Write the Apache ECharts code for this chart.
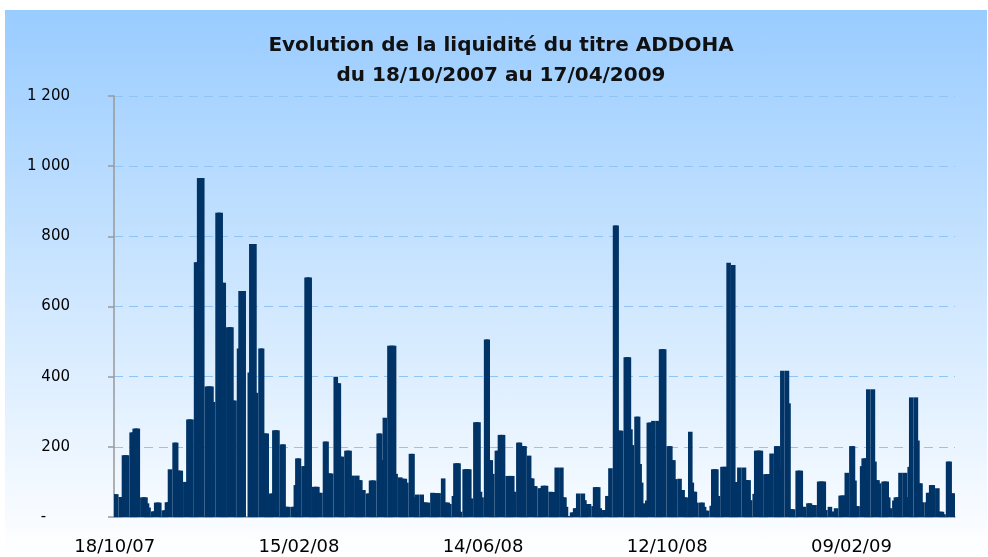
<!DOCTYPE html>
<html>
<head>
<meta charset="utf-8">
<title>Liquidité ADDOHA</title>
<script src="https://cdn.jsdelivr.net/npm/echarts@6/dist/echarts.min.js"></script>
<style>
  html, body { margin: 0; padding: 0; background: #fff; }
  #wrap { position: relative; width: 988px; height: 557px; }
  #bg { position: absolute; left: 5px; top: 10px; width: 982px; height: 547px;
        background: linear-gradient(to bottom, #99ccff 0%, #ffffff 100%); }
  #chart { position: absolute; left: 0; top: 0; width: 988px; height: 557px; }
</style>
</head>
<body>
<div id="wrap">
  <div id="bg"></div>
  <div id="chart"></div>
</div>
<script>
// volumes quotidiens (jours ouvrés uniquement)
const vol_oct07_jan08 = [
  65, 65, 57, 57, 176, 176, 176, 241, 241, 252, 252, 252, 56, 56, 56,
  39, 27, 16, 16, 41, 41, 41, 19, 19, 42, 42, 136, 212, 212, 132,
  132, 132, 100, 72, 278, 278, 278, 726, 726, 966, 966, 966, 372, 372, 372,
  372, 328, 867, 867, 867, 668, 668, 541, 541, 541, 332, 332, 480, 644, 644,
  644, 0, 412, 778, 778
]
const vol_jan08_apr08 = [
  778, 354, 480, 480, 238, 238, 238, 67, 67, 247, 247, 247, 207, 207, 29,
  29, 29, 29, 29, 91, 167, 167, 145, 145, 683, 683, 683, 86, 86, 86,
  69, 69, 215, 215, 124, 124, 124, 400, 381, 381, 172, 172, 189, 189, 189,
  0, 118, 118, 105, 105, 77, 77, 67, 67, 104, 104, 104, 238, 238, 162,
  58, 283, 488, 488, 488
]
const vol_apr08_jul08 = [
  488, 123, 113, 109, 109, 109, 98, 180, 180, 56, 56, 64, 64, 42, 41,
  41, 41, 69, 68, 68, 68, 68, 110, 41, 41, 41, 37, 60, 153, 153,
  153, 15, 136, 136, 136, 136, 53, 270, 270, 270, 72, 56, 506, 506, 162,
  162, 123, 189, 189, 234, 234, 234, 117, 117, 117, 117, 72, 212, 212, 202,
  202, 202, 175, 110, 110
]
const vol_jul08_oct08 = [
  88, 88, 82, 82, 89, 89, 89, 72, 71, 71, 71, 141, 141, 56, 56,
  29, 3, 13, 13, 25, 25, 67, 67, 48, 37, 37, 37, 31, 85, 85,
  85, 25, 20, 20, 60, 60, 139, 831, 831, 246, 246, 246, 455, 455, 455,
  250, 205, 286, 286, 151, 98, 39, 47, 269, 269, 269, 274, 274, 141, 478,
  478, 478, 202, 202, 162
]
const vol_oct08_jan09 = [
  162, 108, 109, 77, 77, 56, 56, 243, 98, 72, 72, 41, 41, 41, 29,
  18, 18, 32, 136, 136, 136, 60, 143, 143, 143, 143, 725, 718, 99, 99,
  99, 141, 141, 105, 105, 105, 48, 66, 189, 189, 189, 189, 122, 122, 122,
  122, 181, 202, 202, 136, 136, 417, 417, 324, 22, 22, 22, 132, 132, 132,
  29, 29, 39, 39, 25
]
const vol_jan09_apr09 = [
  34, 34, 101, 101, 101, 101, 20, 29, 15, 15, 15, 25, 61, 61, 61,
  61, 126, 202, 202, 104, 31, 31, 145, 167, 167, 167, 364, 364, 158, 105,
  105, 96, 101, 101, 101, 56, 25, 47, 56, 56, 56, 126, 126, 56, 56,
  143, 341, 341, 218, 96, 96, 42, 42, 69, 69, 91, 91, 82, 15, 15,
  15, 8, 158, 158, 67, 67, 67
]

const yTicks = [0, 200, 400, 600, 800, 1000, 1200]
const labelEvery = 120 // jours entre deux dates affichées

const volumes = [].concat(vol_oct07_jan08, vol_jan08_apr08, vol_apr08_jul08,
  vol_jul08_oct08, vol_oct08_jan09, vol_jan09_apr09)

// axe en jours calendaires, week-ends vides
const pad = (n) => String(n).padStart(2, '0')
const days = []
const values = []
let t = 0
for (let d = new Date(2007, 9, 18); d <= new Date(2009, 3, 17); d.setDate(d.getDate() + 1)) {
  days.push(pad(d.getDate()) + '/' + pad(d.getMonth() + 1) + '/' + pad(d.getFullYear() % 100))
  const wd = d.getDay()
  if (wd === 0 || wd === 6) values.push(null)
  else values.push(volumes[t++] ?? null)
}

const chart = echarts.init(document.getElementById('chart'))

const showDay = (i) => i % labelEvery === 0

const option = {
  animation: false,
  title: {
    text: 'Evolution de la liquidité du titre ADDOHA\ndu 18/10/2007 au 17/04/2009',
    left: 501,
    textAlign: 'center',
    top: 31,
    padding: 0,
    textStyle: {
      fontFamily: 'DejaVu Sans',
      fontWeight: 'bold',
      fontSize: 20,
      lineHeight: 30,
      color: '#111'
    }
  },
  grid: {
    left: 114,
    right: 33,
    top: 96,
    bottom: 40,
    containLabel: false,
    outerBoundsMode: 'none'
  },
  xAxis: {
    type: 'category',
    data: days,
    boundaryGap: true,
    axisLine: { lineStyle: { color: '#999', width: 1.5 } },
    axisTick: {
      interval: showDay,
      alignWithLabel: true,
      length: 6,
      lineStyle: { color: '#999', width: 1.5 }
    },
    axisLabel: {
      interval: showDay,
      margin: 21,
      fontFamily: 'DejaVu Sans',
      fontSize: 18,
      color: '#000'
    },
    splitLine: { show: false }
  },
  yAxis: {
    type: 'value',
    min: yTicks[0],
    max: yTicks[yTicks.length - 1],
    interval: 200,
    axisLine: { show: true, lineStyle: { color: '#999', width: 1.5 } },
    axisTick: { show: true, length: 6, lineStyle: { color: '#999', width: 1.5 } },
    axisLabel: {
      margin: 44,
      fontFamily: 'DejaVu Sans',
      fontSize: 15,
      color: '#000',
      formatter: (v) => v === 0 ? '-     ' : String(v).replace(/\B(?=(\d{3})+(?!\d))/g, ' ')
    },
    splitLine: {
      lineStyle: { color: '#8ec4f8', type: [9, 6], width: 1 }
    }
  },
  series: [
    {
      type: 'bar',
      data: values,
      barWidth: 4.6,
      itemStyle: { color: '#003366' }
    }
  ]
}

chart.setOption(option)
</script>
</body>
</html>
